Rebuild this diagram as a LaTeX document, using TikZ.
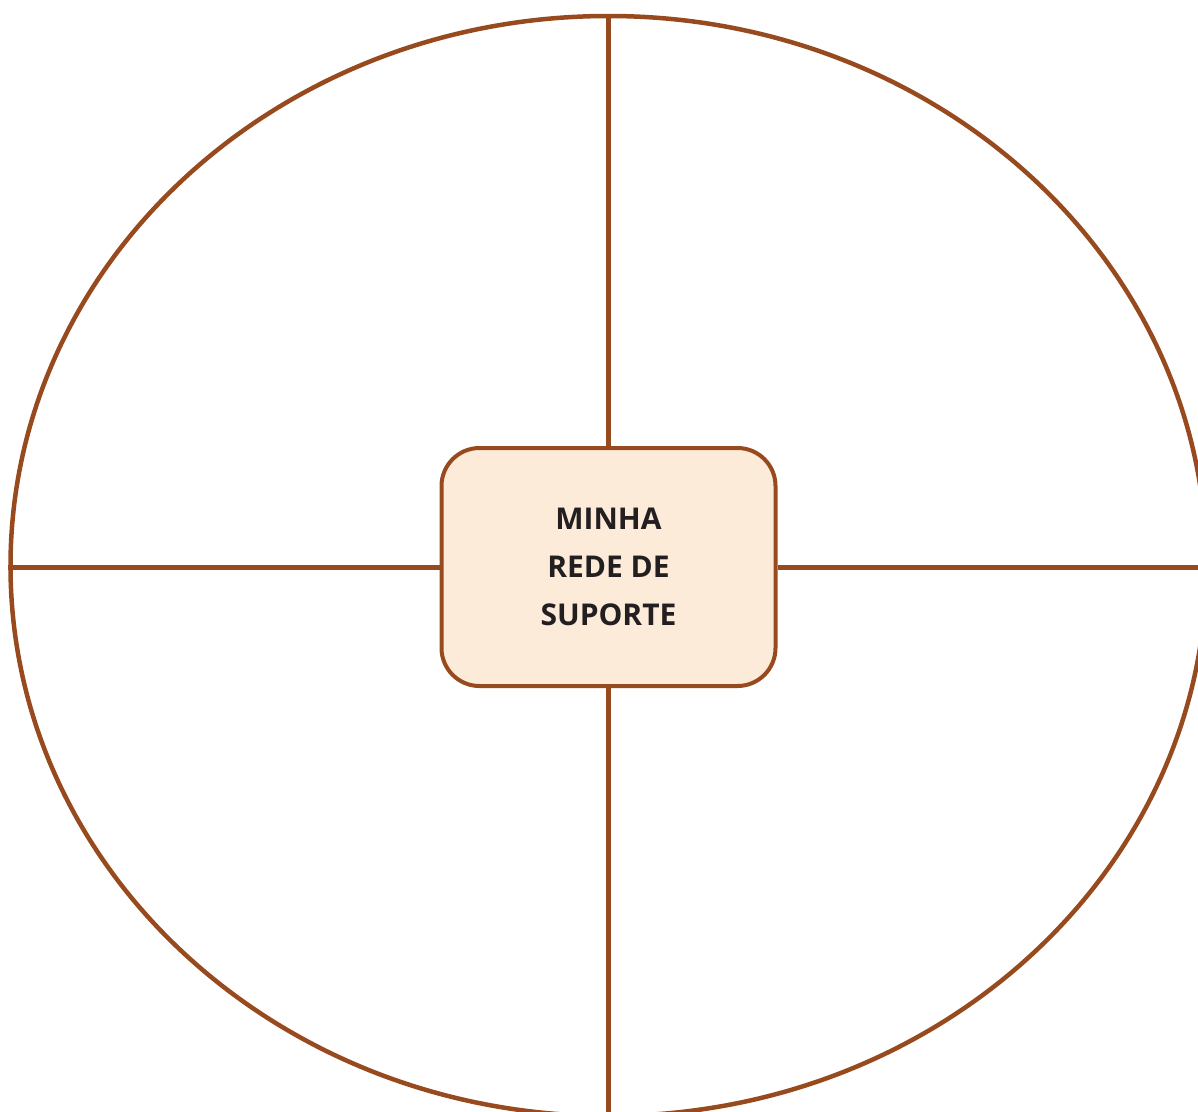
\documentclass[tikz,border=0pt]{standalone}
\usepackage{fontspec}
\setmainfont{Open Sans}
\usetikzlibrary{shapes.geometric}
\definecolor{brn}{HTML}{984A1F}
\definecolor{peach}{HTML}{FDEBDA}
\definecolor{txt}{HTML}{231F20}
\tikzset{
  rim/.style={draw=brn, line width=4.5pt, ellipse, minimum width=1196pt, minimum height=1100pt, inner sep=0pt},
  centerbox/.style={draw=brn, line width=4pt, fill=peach, rounded corners=38pt, minimum width=334pt, minimum height=238pt, inner sep=0pt, align=center, font=\fontsize{30}{48}\selectfont\bfseries, text=txt},
  spoke/.style={draw=brn, line width=5pt}
}
\begin{document}
\begin{tikzpicture}[x=1pt,y=-1pt]
\useasboundingbox (0,0) rectangle (1198,1111);
\clip (0,0) rectangle (1198,1111);
\node[rim] (ring) at (608.5,566) {};
\node[centerbox] (hub) at (608.5,567) {MINHA\\REDE DE\\SUPORTE};
\coordinate (bot) at (608.5,1120);
\coordinate (rgt) at (1210,566.5);
\draw[spoke] (ring.north) -- (hub.north);
\draw[spoke] (hub.south) -- (bot);
\draw[spoke] (ring.west |- hub.west) -- (hub.west);
\draw[spoke] (hub.east) -- (rgt |- hub.east);
\end{tikzpicture}
\end{document}
